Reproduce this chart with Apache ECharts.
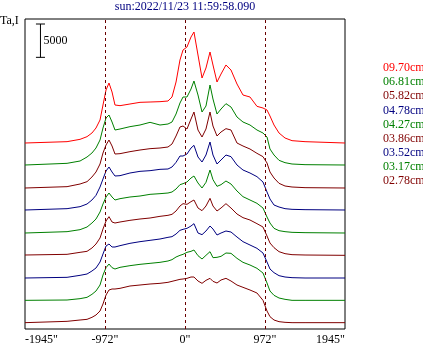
<!DOCTYPE html>
<html><head><meta charset="utf-8">
<script src="https://cdn.jsdelivr.net/npm/echarts@6/dist/echarts.min.js"></script>
<style>html,body{margin:0;padding:0;background:#fff}#c{width:423px;height:347px}</style>
</head><body><div id="c"></div>
<script>
// x positions (arcsec) shared by all profiles
const xArcsec = [-1945,-1434,-1276,-1191,-1131,-1082,-1033,-997,-960,-924,-887,-851,-790,-669,-547,-425,-304,-207,-158,-109,-61,-24,24,73,109,158,207,255,304,340,389,438,498,559,632,705,790,875,948,997,1033,1082,1143,1216,1301,1459,1945];

// profile values (Ta above each curve's own baseline)
const p0970 = [0,200,550,950,1500,2250,3450,5700,7950,9000,7650,5700,5600,5850,6100,6150,6200,6300,6900,9150,12450,13950,14400,15900,16650,13200,9750,11250,13650,11700,9150,10350,11700,10950,8850,7200,6900,5500,5250,4950,4050,2700,1500,750,350,200,0];
const p0681 = [0,250,600,1200,1800,2550,3750,5550,7050,7500,6450,5250,5400,5750,6000,6400,6000,6150,6450,7650,9300,10200,10200,11400,12600,10500,7950,8850,12000,9900,7650,8400,9200,8700,7200,6450,6000,5250,4800,4200,2400,1500,700,350,150,50,0];
const p0582 = [0,200,600,950,1650,2400,3600,5250,6450,7200,6300,5100,5150,5450,5700,5900,6000,6150,6600,7800,9150,9300,8850,10350,11400,8700,7650,8850,11400,9300,7800,8400,8900,8700,6750,6300,5850,5200,4700,3750,2400,1500,700,300,150,50,0];
const p0478 = [0,200,500,900,1500,2200,3450,4650,5850,6450,5700,5100,5150,5550,5800,5900,6100,6150,6450,7150,8100,8100,8400,9300,9700,7950,7200,8250,10200,8250,6900,7500,8250,8000,6750,6000,5550,5000,4200,2700,1650,750,450,200,100,50,0];
const p0427 = [0,200,500,900,1500,2100,3150,4350,5400,6000,5400,4950,5150,5400,5550,5800,5900,6000,6150,6600,7250,7400,7650,8250,8550,7500,6750,7600,9450,8000,7000,7250,7800,7350,6300,5450,4950,4450,3750,2400,1500,700,350,200,100,50,0];
const p0386 = [0,100,400,550,1050,1650,2550,3900,5100,5750,4950,4800,4950,5200,5400,5550,5800,5950,6100,6600,7350,7700,7600,8000,8250,7050,6650,7350,8500,7350,6600,7050,7700,7050,6150,5600,5250,4700,4200,2850,1800,1100,500,200,50,0,-50];
const p0352 = [0,100,400,600,1050,1500,2400,3600,4800,5100,4650,4650,4850,5200,5450,5650,5850,6100,6200,6600,7150,7300,7450,7800,8150,6750,6500,7050,7800,7350,6450,6750,7050,6900,6150,5450,4950,4450,3750,2400,1350,800,350,150,50,0,0];
const p0317 = [0,50,250,450,900,1400,2300,3800,4900,5450,4900,4700,4950,5200,5400,5550,5700,5900,6100,6500,6750,6900,7200,7350,7550,6700,6200,6750,7300,6400,6450,6600,7100,7050,6300,5700,5300,4800,4100,2600,1400,750,350,150,0,0,0];
const p0278 = [0,200,400,500,800,1150,1750,2800,4150,4900,5050,5050,5150,5500,5650,5800,5900,6050,6200,6350,6500,6550,6650,6850,6850,6250,5900,6350,6650,6200,5950,6400,6650,6250,5650,5300,4900,4450,3350,1750,900,400,150,50,0,0,0];

const seriesNames = ['09.70cm','06.81cm','05.82cm','04.78cm','04.27cm','03.86cm','03.52cm','03.17cm','02.78cm'];
const seriesColors = ['#ff0000','#008000','#800000','#000080','#008000','#800000','#000080','#008000','#800000'];
const baseOffsets = [27900,24600,21150,17850,14400,11100,7650,4300,950];

const tickValues = [-1945,-972,0,972,1945];
const tickLabels = ['-1945"','-972"','0"','972"','1945"'];
const limbMarks = [-972,0,972];
const titleText = 'sun:2022/11/23 11:59:58.090';
const yLabel = 'Ta,I';
const scaleBarValue = 5000;
const scaleBarX = -1757;
const scaleBarTop = 45750;
const capHalf = 55;

const profiles = [p0970,p0681,p0582,p0478,p0427,p0386,p0352,p0317,p0278];
const FONT = 'Liberation Serif';

const chart = echarts.init(document.getElementById('c'), null, {renderer:'canvas'});

const curveSeries = profiles.map((p, k) => ({
  name: seriesNames[k],
  type: 'line',
  symbol: 'none',
  silent: true,
  animation: false,
  lineStyle: {color: seriesColors[k], width: 1},
  itemStyle: {color: seriesColors[k]},
  data: xArcsec.map((x, i) => [x, baseOffsets[k] + p[i]]),
  z: 2
}));

const barStyle = {type:'line', symbol:'none', silent:true, animation:false, lineStyle:{color:'#000', width:1}, z:3};
const scaleSeries = [
  Object.assign({}, barStyle, {data: [[scaleBarX - capHalf, scaleBarTop], [scaleBarX + capHalf, scaleBarTop]]}),
  Object.assign({}, barStyle, {data: [[scaleBarX - capHalf, scaleBarTop - scaleBarValue], [scaleBarX + capHalf, scaleBarTop - scaleBarValue]]}),
  Object.assign({}, barStyle, {
    data: [[scaleBarX, scaleBarTop], [scaleBarX, scaleBarTop - scaleBarValue]],
    markLine: {
      silent: true, symbol: ['none','none'], animation: false,
      label: {show: false},
      lineStyle: {color: '#6a0000', type: [3,3], width: 1},
      data: limbMarks.map(v => ({xAxis: v}))
    },
    z: 5
  })
];

chart.setOption({
  animation: false,
  backgroundColor: '#fff',
  grid: {left: 25, right: 78, top: 19, bottom: 18, show: true, borderColor: '#000', borderWidth: 1, backgroundColor: 'transparent'},
  xAxis: {
    type: 'value', min: -1945, max: 1945,
    axisLine: {show: false}, axisTick: {show: false}, splitLine: {show: false},
    axisLabel: {
      customValues: tickValues,
      formatter: v => tickLabels[tickValues.indexOf(v)],
      fontFamily: FONT, fontSize: 12, color: '#000', margin: 5,
      alignMinLabel: 'left', alignMaxLabel: 'right'
    }
  },
  yAxis: {type: 'value', min: 0, max: 46500, show: false, splitLine: {show: false}},
  series: curveSeries.concat(scaleSeries)
});

const mid = chart.convertToPixel({gridIndex: 0}, [scaleBarX, scaleBarTop - scaleBarValue / 2]);
const center = chart.convertToPixel({gridIndex: 0}, [0, 0]);
const gfx = [
  {type:'text', x: center[0], y: 7, style:{text: titleText, fontFamily: FONT, fontSize: 12, fill:'#000080', align:'center', verticalAlign:'middle'}},
  {type:'text', x: 0, y: 21, style:{text: yLabel, fontFamily: FONT, fontSize: 12, fill:'#000', align:'left', verticalAlign:'middle'}},
  {type:'text', x: mid[0] + 3, y: mid[1], style:{text: String(scaleBarValue), fontFamily: FONT, fontSize: 12, fill:'#000', align:'left', verticalAlign:'middle'}}
];
seriesNames.forEach((n, k) => {
  gfx.push({type:'text', x: 383, y: 68 + k * 14.16, style:{text: n, fontFamily: FONT, fontSize: 12, fill: seriesColors[k], align:'left', verticalAlign:'middle'}});
});
chart.setOption({graphic: gfx});
</script></body></html>
